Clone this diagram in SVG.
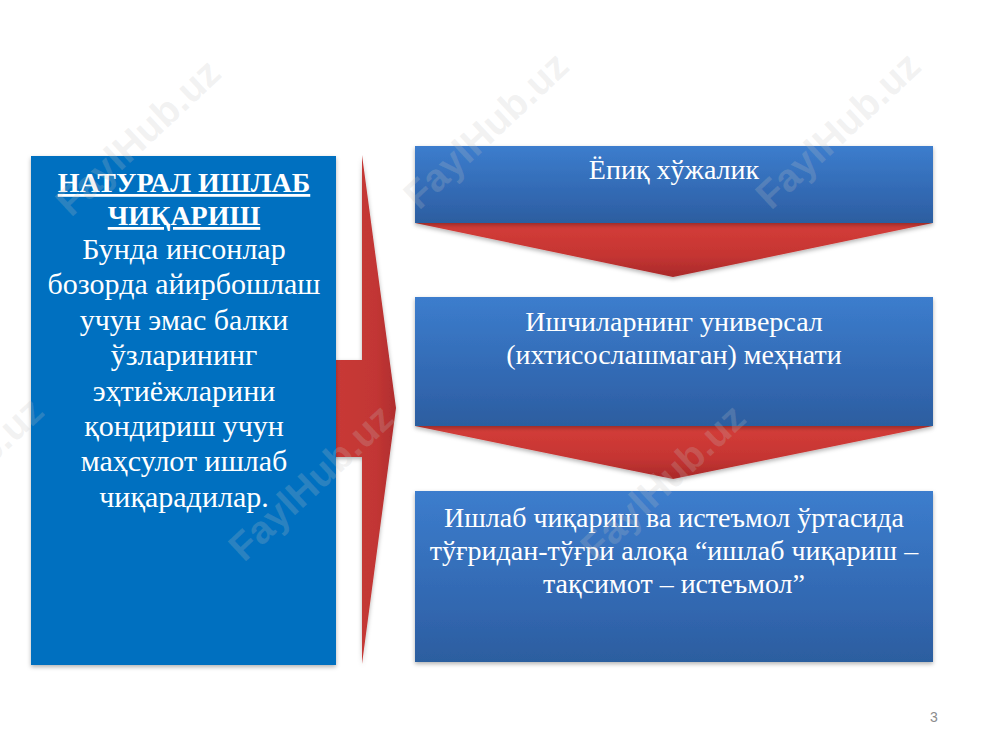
<svg xmlns="http://www.w3.org/2000/svg" width="1000" height="750" viewBox="0 0 1000 750">
<defs>
<linearGradient id="blueG" x1="0" y1="0" x2="0" y2="1">
<stop offset="0" stop-color="#3c7dcd"/>
<stop offset="0.75" stop-color="#3065ad"/>
<stop offset="1" stop-color="#2c5e9f"/>
</linearGradient>
<linearGradient id="redV" x1="0" y1="0" x2="0" y2="1">
<stop offset="0" stop-color="#d43d39"/>
<stop offset="0.6" stop-color="#c53532"/>
<stop offset="1" stop-color="#a9292a"/>
</linearGradient>
<linearGradient id="redH" x1="0" y1="0" x2="1" y2="0">
<stop offset="0" stop-color="#c93a37"/>
<stop offset="0.7" stop-color="#c23634"/>
<stop offset="1" stop-color="#b02d2e"/>
</linearGradient>
<filter id="sh" x="-5%" y="-5%" width="110%" height="115%">
<feDropShadow dx="0" dy="2" stdDeviation="2" flood-color="#000" flood-opacity="0.3"/>
</filter>
</defs>
<style>
.t{font-family:"Liberation Serif","Times New Roman",serif;fill:#ffffff;text-anchor:middle}
.lt{font-size:30px}
.hd{font-size:28px;font-weight:bold;text-decoration:underline}
.rt{font-size:28px}
.wm{font-family:"Liberation Sans",Arial,sans-serif;font-weight:bold;font-size:39px;fill:#c4c4c4;fill-opacity:0.22;text-anchor:middle}
.pg{font-family:"Liberation Sans",Arial,sans-serif;font-size:14px;fill:#8c8c8c}
</style>
<rect width="1000" height="750" fill="#ffffff"/>
<g id="connectors">
<path d="M330,360 L362,360 L362,155 L396,408 L362,664 L362,457 L330,457 Z" fill="url(#redH)" filter="url(#sh)"/>
<path d="M415,223 L933,223 L673,277 Z" fill="url(#redV)" filter="url(#sh)"/>
<path d="M415,426 L933,426 L673,479 Z" fill="url(#redV)" filter="url(#sh)"/>
</g>
<g id="node-left">
<rect x="31" y="156" width="305" height="509" fill="#0070c0" filter="url(#sh)"/>
<text class="t hd" x="184" y="192">НАТУРАЛ ИШЛАБ</text>
<text class="t hd" x="184" y="225">ЧИҚАРИШ</text>
<text class="t lt" x="184" y="259">Бунда инсонлар</text>
<text class="t lt" x="184" y="294">бозорда айирбошлаш</text>
<text class="t lt" x="184" y="330">учун эмас балки</text>
<text class="t lt" x="184" y="365">ўзларининг</text>
<text class="t lt" x="184" y="401">эҳтиёжларини</text>
<text class="t lt" x="184" y="436">қондириш учун</text>
<text class="t lt" x="184" y="471">маҳсулот ишлаб</text>
<text class="t lt" x="184" y="507">чиқарадилар.</text>
</g>
<g id="node-1">
<rect x="415" y="146" width="518" height="77" fill="url(#blueG)" filter="url(#sh)"/>
<text class="t rt" x="674" y="179">Ёпиқ хўжалик</text>
</g>
<g id="node-2">
<rect x="415" y="297" width="518" height="129" fill="url(#blueG)" filter="url(#sh)"/>
<text class="t rt" x="674" y="331">Ишчиларнинг универсал</text>
<text class="t rt" x="674" y="364">(ихтисослашмаган) меҳнати</text>
</g>
<g id="node-3">
<rect x="415" y="491" width="518" height="171" fill="url(#blueG)" filter="url(#sh)"/>
<text class="t rt" x="674" y="527">Ишлаб чиқариш ва истеъмол ўртасида</text>
<text class="t rt" x="674" y="560">тўғридан-тўғри алоқа “ишлаб чиқариш –</text>
<text class="t rt" x="674" y="593">тақсимот – истеъмол”</text>
</g>
<g id="watermarks">
<text class="wm" transform="translate(147,147) rotate(-43)">FaylHub.uz</text>
<text class="wm" transform="translate(495,140) rotate(-43)">FaylHub.uz</text>
<text class="wm" transform="translate(847,140) rotate(-43)">FaylHub.uz</text>
<text class="wm" transform="translate(-30,485) rotate(-43)">FaylHub.uz</text>
<text class="wm" transform="translate(320,492) rotate(-43)">FaylHub.uz</text>
<text class="wm" transform="translate(672,492) rotate(-43)">FaylHub.uz</text>
</g>
<text class="pg" x="930" y="722">3</text>
</svg>
